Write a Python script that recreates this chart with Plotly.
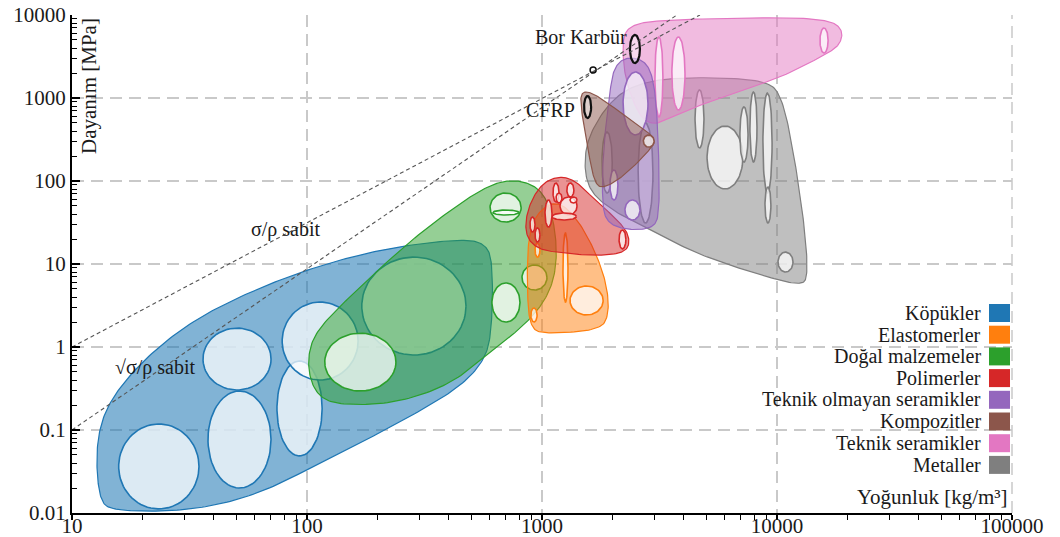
import numpy as np
import plotly.graph_objects as go

# ---------------- data ----------------
CATEGORIES = ["Köpükler", "Elastomerler", "Doğal malzemeler", "Polimerler",
              "Teknik olmayan seramikler", "Kompozitler", "Teknik seramikler", "Metaller"]
COLORS = ["#1f77b4", "#ff7f0e", "#2ca02c", "#d62728",
          "#9467bd", "#8c564b", "#e377c2", "#7f7f7f"]

X_TICKS = [10, 100, 1000, 10000, 100000]
Y_TICKS = [0.01, 0.1, 1, 10, 100, 1000, 10000]

# envelopes (density kg/m3, strength MPa)
foam_env_rho = [12.7, 13.2, 14.5, 23.7, 38.6, 63.1, 100, 168, 274, 448, 572, 612, 618, 572, 448, 232, 122, 63.1, 32.7, 20.0, 14.5, 12.9]
foam_env_sig = [0.033, 0.0144, 0.0109, 0.0103, 0.0118, 0.0174, 0.033, 0.0697, 0.1435, 0.330, 0.697, 1.60, 10.6, 17.9, 20.0, 16.0, 10.3, 5.28, 2.12, 0.697, 0.23, 0.092]

natural_env_rho = [731, 889, 1030, 1135, 1160, 1060, 847, 601, 406, 232, 132, 108, 100, 106, 142, 267, 448, 601]
natural_env_sig = [103, 94.6, 67.8, 29.5, 9.73, 4.0, 1.84, 0.87, 0.348, 0.206, 0.200, 0.279, 0.607, 1.39, 3.39, 17.9, 54.4, 89.5]

elast_env_rho = [871, 934, 1135, 1381, 1680, 1892, 1928, 1764, 1030, 889, 863]
elast_env_sig = [19.5, 38.9, 59.0, 38.9, 14.7, 5.58, 2.43, 1.60, 1.43, 1.69, 4.86]

poly_env_rho = [1170, 1381, 1680, 2146, 2367, 2300, 1764, 1193, 953, 847, 863, 980]
poly_env_sig = [115, 103, 59.0, 32.1, 21.1, 13.9, 12.5, 13.6, 15.2, 22.4, 44.7, 89.5]

metal_env_rho = [2880, 4699, 8890, 10500, 11930, 13160, 13540, 12770, 8458, 4699, 3176, 2146, 1633, 1505, 1569, 2044]
metal_env_sig = [1650, 1790, 1650, 1087, 179, 25.7, 7.37, 5.43, 7.37, 12.8, 22.4, 38.9, 67.8, 136, 358, 1090]

techcer_env_rho = [2188, 2367, 3176, 10300, 16800, 19100, 18530, 16000, 10300, 5716, 3503, 3024, 2611, 2254]
techcer_env_sig = [5000, 7580, 8700, 9460, 8700, 6590, 4350, 3300, 1740, 1028, 574, 473, 574, 1650]

nontech_env_rho = [2254, 2742, 2997, 3120, 3176, 2940, 2254, 1871, 1800, 1820, 1946, 2024]
nontech_env_sig = [3120, 2870, 1650, 411, 38.9, 26.4, 25.7, 32.1, 59.0, 236, 1250, 2297]

comp_env_rho = [1451, 1633, 2146, 3086, 2880, 2254, 1853, 1680, 1569, 1479]
comp_env_sig = [1181, 1181, 678, 330, 236, 118, 82.4, 89.5, 236, 624]

# material bubbles: (density min, max), (strength min, max)
foam_ell_rho = [(15.8, 34.7), (37.9, 70.3), (36.1, 70.3), (74.5, 116), (78.4, 165), (171, 475)]
foam_ell_sig = [(0.0112, 0.118), (0.020, 0.295), (0.303, 1.69), (0.0487, 0.678), (0.40, 3.48), (0.80, 12.1)]

natural_ell_rho = [(119, 239), (601, 815), (618, 798), (612, 806), (822, 1050)]
natural_ell_sig = [(0.295, 1.47), (32.0, 71.6), (38.9, 44.7), (2.0, 5.90), (4.86, 9.73)]

elast_ell_rho = [(1228, 1290), (1316, 1820), (897, 953), (934, 980)]
elast_ell_sig = [(3.48, 23.6), (2.43, 5.43), (2.0, 2.95), (12.1, 17.9)]

poly_ell_rho = [(1114, 1181), (1276, 1367), (1148, 1216), (1193, 1410), (1316, 1410), (1103, 1400), (1030, 1103), (889, 934), (934, 980), (2128, 2275)]
poly_ell_sig = [(55.8, 94.6), (64.2, 94.6), (54.4, 71.6), (38.9, 64.2), (54.4, 64.2), (33.9, 41.1), (27.9, 59.0), (24.3, 36.8), (18.4, 27.2), (15.2, 25.7)]

metal_ell_rho = [(4480, 4890), (5040, 7160), (6953, 7530), (7669, 8220), (8710, 9530), (8890, 9420), (10100, 11700), (1800, 1990), (2565, 2965)]
metal_ell_sig = [(250, 1250), (80.1, 460), (169, 779), (169, 1180), (71.6, 1148), (31.2, 84.7), (8.01, 13.9), (71.6, 389), (31.2, 500)]

techcer_ell_rho = [(3024, 3270), (3570, 4060), (15230, 16500)]
techcer_ell_sig = [(590, 5430), (717, 5430), (3480, 6970)]

nontech_ell_rho = [(2213, 2825), (2254, 2611), (1946, 2104)]
nontech_ell_sig = [(358, 2057), (33.9, 59.0), (59, 136)]

comp_ell_rho = [(2700, 3000)]
comp_ell_sig = [(256, 358)]

# highlighted materials
boron_carbide_rho = (2367, 2611)
boron_carbide_sig = (2640, 5740)
cfrp_rho = (1510, 1618)
cfrp_sig = (574, 1057)

# guide lines
ratio_line_rho = [10, 4700]
ratio_line_sig = [1, 10000]
sqrt_line_rho = [10, 3750]
sqrt_line_sig = [0.1, 10000]
cross_rho = [1650]
cross_sig = [2175]

# ---------------- helpers ----------------
def smooth_closed(xs, ys, it=4):
    p = np.column_stack([np.log10(xs), np.log10(ys)])
    for _ in range(it):
        n = np.roll(p, -1, axis=0)
        q = 0.75 * p + 0.25 * n
        r = 0.25 * p + 0.75 * n
        p = np.empty((2 * len(q), 2))
        p[0::2] = q
        p[1::2] = r
    p = np.vstack([p, p[:1]])
    return 10 ** p[:, 0], 10 ** p[:, 1]


def ellipse(rr, ss, n=72):
    t = np.linspace(0, 2 * np.pi, n)
    lx = np.log10(rr)
    ly = np.log10(ss)
    cx, rx = (lx[0] + lx[1]) / 2, (lx[1] - lx[0]) / 2
    cy, ry = (ly[0] + ly[1]) / 2, (ly[1] - ly[0]) / 2
    return 10 ** (cx + rx * np.cos(t)), 10 ** (cy + ry * np.sin(t))


def rgba(hexc, a):
    h = hexc.lstrip("#")
    return "rgba(%d,%d,%d,%.2f)" % (int(h[0:2], 16), int(h[2:4], 16), int(h[4:6], 16), a)


def minor_vals(lo_exp, hi_exp):
    return [k * 10.0 ** e for e in range(lo_exp, hi_exp) for k in range(2, 10)]


fig = go.Figure()

groups = [
    (0, foam_env_rho, foam_env_sig, foam_ell_rho, foam_ell_sig, 0.56),
    (2, natural_env_rho, natural_env_sig, natural_ell_rho, natural_ell_sig, 0.5),
    (1, elast_env_rho, elast_env_sig, elast_ell_rho, elast_ell_sig, 0.5),
    (3, poly_env_rho, poly_env_sig, poly_ell_rho, poly_ell_sig, 0.5),
    (7, metal_env_rho, metal_env_sig, metal_ell_rho, metal_ell_sig, 0.5),
    (6, techcer_env_rho, techcer_env_sig, techcer_ell_rho, techcer_ell_sig, 0.5),
    (4, nontech_env_rho, nontech_env_sig, nontech_ell_rho, nontech_ell_sig, 0.5),
    (5, comp_env_rho, comp_env_sig, comp_ell_rho, comp_ell_sig, 0.5),
]

for gi, er, es, elr, els, alpha in groups:
    col = COLORS[gi]
    x, y = smooth_closed(er, es)
    fig.add_trace(go.Scatter(x=x, y=y, mode="lines", fill="toself",
                             fillcolor=rgba(col, alpha), line=dict(color=col, width=1.2),
                             hoverinfo="skip", showlegend=False, name=CATEGORIES[gi]))
    for rr, ss in zip(elr, els):
        x, y = ellipse(rr, ss)
        fig.add_trace(go.Scatter(x=x, y=y, mode="lines", fill="toself",
                                 fillcolor="rgba(255,255,255,0.72)",
                                 line=dict(color=col, width=1.6),
                                 hoverinfo="skip", showlegend=False))

for rr, ss in [(boron_carbide_rho, boron_carbide_sig), (cfrp_rho, cfrp_sig)]:
    x, y = ellipse(rr, ss)
    fig.add_trace(go.Scatter(x=x, y=y, mode="lines", fill="toself",
                             fillcolor="rgba(255,255,255,0.45)",
                             line=dict(color="#111111", width=2.2),
                             hoverinfo="skip", showlegend=False))

for lr, ls in [(ratio_line_rho, ratio_line_sig), (sqrt_line_rho, sqrt_line_sig)]:
    fig.add_trace(go.Scatter(x=lr, y=ls, mode="lines",
                             line=dict(color="#555555", width=1.1, dash="4px,3px"),
                             hoverinfo="skip", showlegend=False))

fig.add_trace(go.Scatter(x=cross_rho, y=cross_sig, mode="markers",
                         marker=dict(symbol="circle-open", size=6, color="#111111", line=dict(width=1.5)),
                         hoverinfo="skip", showlegend=False))

SERIF = "Liberation Serif, Times New Roman, serif"

annotations = []
shapes = [
    # dashed right frame edge (grid at 100000)
    dict(type="line", xref="paper", yref="paper", x0=1, x1=1, y0=0, y1=1,
         line=dict(color="#c9c9c9", width=1.5, dash="12px,7px"), layer="below"),
]
# legend on the right (text then colour box)
W_PLOT, H_PLOT = 940.0, 498.0
for i, (name, col) in enumerate(zip(CATEGORIES, COLORS)):
    yc = 313 + i * 21.7
    yp = (513 - yc) / H_PLOT
    annotations.append(dict(x=(983 - 72) / W_PLOT, y=yp, xref="paper", yref="paper",
                            text=name, showarrow=False, xanchor="right", yanchor="middle",
                            font=dict(family=SERIF, size=20, color="#1a1a1a")))
    shapes.append(dict(type="rect", xref="paper", yref="paper",
                       x0=(989 - 72) / W_PLOT, x1=(1010 - 72) / W_PLOT,
                       y0=yp - 9 / H_PLOT, y1=yp + 9 / H_PLOT,
                       fillcolor=col, line=dict(width=0)))

annotations += [
    dict(x=(1010 - 72) / W_PLOT, y=(513 - 497) / H_PLOT, xref="paper", yref="paper",
         text="Yoğunluk [kg/m³]", showarrow=False, xanchor="right", yanchor="middle",
         font=dict(family=SERIF, size=21, color="#1a1a1a")),
    dict(x=(89 - 72) / W_PLOT, y=(513 - 16) / H_PLOT, xref="paper", yref="paper",
         text="Dayanım [MPa]", textangle=-90, showarrow=False, xanchor="center", yanchor="top",
         font=dict(family=SERIF, size=21, color="#1a1a1a")),
    dict(x=(286 - 72) / W_PLOT, y=(513 - 229) / H_PLOT, xref="paper", yref="paper",
         text="σ/ρ sabit", showarrow=False, xanchor="center", yanchor="middle",
         font=dict(family=SERIF, size=20, color="#1a1a1a")),
    dict(x=(155 - 72) / W_PLOT, y=(513 - 368) / H_PLOT, xref="paper", yref="paper",
         text="√σ/ρ sabit", showarrow=False, xanchor="center", yanchor="middle",
         font=dict(family=SERIF, size=20, color="#1a1a1a")),
    dict(x=np.log10(boron_carbide_rho[0]), y=np.log10(np.sqrt(boron_carbide_sig[0] * boron_carbide_sig[1])),
         xref="x", yref="y", text="Bor Karbür", showarrow=False, xanchor="right", yanchor="middle",
         xshift=-1, yshift=12, font=dict(family=SERIF, size=20, color="#1a1a1a")),
    dict(x=np.log10(cfrp_rho[0]), y=np.log10(np.sqrt(cfrp_sig[0] * cfrp_sig[1])),
         xref="x", yref="y", text="CFRP", showarrow=False, xanchor="right", yanchor="middle",
         xshift=-7, yshift=-3, font=dict(family=SERIF, size=20, color="#1a1a1a")),
]

axis_common = dict(type="log", showgrid=True, gridcolor="#c9c9c9", gridwidth=1.5,
                   griddash="12px,7px", showline=True, linecolor="black", linewidth=2,
                   tickcolor="black", tickwidth=1.5, zeroline=False, automargin=False,
                   tickfont=dict(family=SERIF, size=21, color="#1a1a1a"))

fig.update_layout(
    width=1060, height=537,
    margin=dict(l=72, r=48, t=15, b=24),
    paper_bgcolor="white", plot_bgcolor="white",
    showlegend=False,
    xaxis=dict(axis_common, range=[1, 5], tickvals=X_TICKS, ticktext=[str(v) for v in X_TICKS],
               ticks="outside", ticklen=5, ticklabelstandoff=-12,
               minor=dict(ticks="outside", ticklen=5, tickcolor="black", tickwidth=1.2,
                          showgrid=False, tickvals=minor_vals(1, 5))),
    yaxis=dict(axis_common, range=[-2, 4], tickvals=Y_TICKS, ticktext=[("%g" % v) for v in Y_TICKS],
               ticks="inside", ticklen=8,
               minor=dict(ticks="inside", ticklen=5, tickcolor="black", tickwidth=1.2,
                          showgrid=False, tickvals=minor_vals(-2, 4))),
    annotations=annotations,
    shapes=shapes,
)

fig.write_html("out.html", config={"displayModeBar": False},
               post_script="document.body.style.margin='0px';document.body.style.overflow='hidden';")
